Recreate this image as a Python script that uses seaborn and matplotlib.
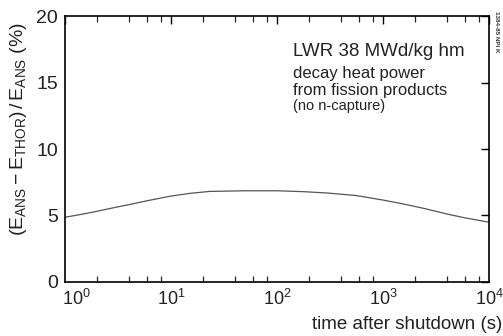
import matplotlib
matplotlib.use("Agg")
import matplotlib.pyplot as plt
import matplotlib.ticker as mticker
import matplotlib.transforms as mtransforms
import seaborn as sns
import pandas as pd

# Decay-heat power deviation vs. time after shutdown
time_s = [1, 1.5, 2, 3, 4, 6, 10, 15, 23, 50, 100, 180, 300, 560, 1000, 1550, 2500, 4000, 6000, 10000]
deviation_pct = [4.85, 5.1, 5.3, 5.6, 5.8, 6.1, 6.45, 6.65, 6.8, 6.85, 6.85, 6.78, 6.68, 6.49, 6.15, 5.86, 5.5, 5.1, 4.8, 4.48]

x_ticks = [1, 10, 100, 1000, 10000]
y_ticks = [0, 5, 10, 15, 20]

df = pd.DataFrame({"time": time_s, "dev": deviation_pct})

sns.set_theme(style="white")
plt.rcParams["font.family"] = ["Liberation Sans", "DejaVu Sans"]
plt.rcParams["mathtext.fontset"] = "custom"
plt.rcParams["mathtext.rm"] = "Liberation Sans"
plt.rcParams["mathtext.it"] = "Liberation Sans"
plt.rcParams["mathtext.default"] = "regular"

fig = plt.figure(figsize=(5.03, 3.36), dpi=100)
ax = fig.add_axes([0.129, 0.162, 0.843, 0.789])

sns.lineplot(data=df, x="time", y="dev", ax=ax, color="#555555", linewidth=0.9)

ax.set_xscale("log")
ax.set_xlim(1, 10000)
ax.set_ylim(0, 20)
ax.set_xticks(x_ticks)
ax.xaxis.set_minor_locator(mticker.LogLocator(base=10, subs=[2, 4, 6, 8]))
ax.xaxis.set_minor_formatter(mticker.NullFormatter())
ax.set_yticks(y_ticks)
ax.set_xlabel("")
ax.set_ylabel("")

for s in ax.spines.values():
    s.set_linewidth(1.2)
    s.set_color("black")

ax.tick_params(axis="both", which="major", direction="in", length=6, width=1.0,
               top=True, right=True, pad=4, colors="black")
ax.tick_params(axis="x", which="major", labelsize=13, pad=5)
ax.tick_params(axis="y", which="major", labelsize=14, length=6, pad=5)
ax.tick_params(axis="x", which="minor", direction="in", length=4, width=0.9,
               top=True, bottom=True)
for lbl in ax.get_xticklabels() + ax.get_yticklabels():
    lbl.set_color("#222222")

# Nudge the first decade label right so it clears the "0" on the y axis
fig.canvas.draw()
first = ax.get_xticklabels()[0]
first.set_horizontalalignment("left")
first.set_transform(first.get_transform() +
                    mtransforms.ScaledTranslation(-2 / 72, 0, fig.dpi_scale_trans))

# Y-axis label with subscripts
fig.text(0.036, 0.615, r"$(E_{ANS}-E_{THOR})\,/\,E_{ANS}$ (%)", rotation=90,
         ha="center", va="center", fontsize=14, color="#222222")

# X-axis label at lower right
fig.text(0.998, 0.033, "time after shutdown (s)", ha="right", va="center",
         fontsize=13.5, color="#222222")

# Annotation block
fig.text(0.583, 0.848, "LWR 38 MWd/kg hm", ha="left", va="center", fontsize=13.5, color="#222222")
fig.text(0.583, 0.782, "decay heat power", ha="left", va="center", fontsize=12, color="#222222")
fig.text(0.583, 0.730, "from fission products", ha="left", va="center", fontsize=12, color="#222222")
fig.text(0.583, 0.684, "(no n-capture)", ha="left", va="center", fontsize=10.5, color="#222222")

# Figure identification mark
fig.text(0.988, 0.905, "1384-85 NPI K", rotation=270, ha="center", va="center",
         fontsize=4.5, color="#333333", fontweight="bold")

fig.savefig("out.png", dpi=100)
